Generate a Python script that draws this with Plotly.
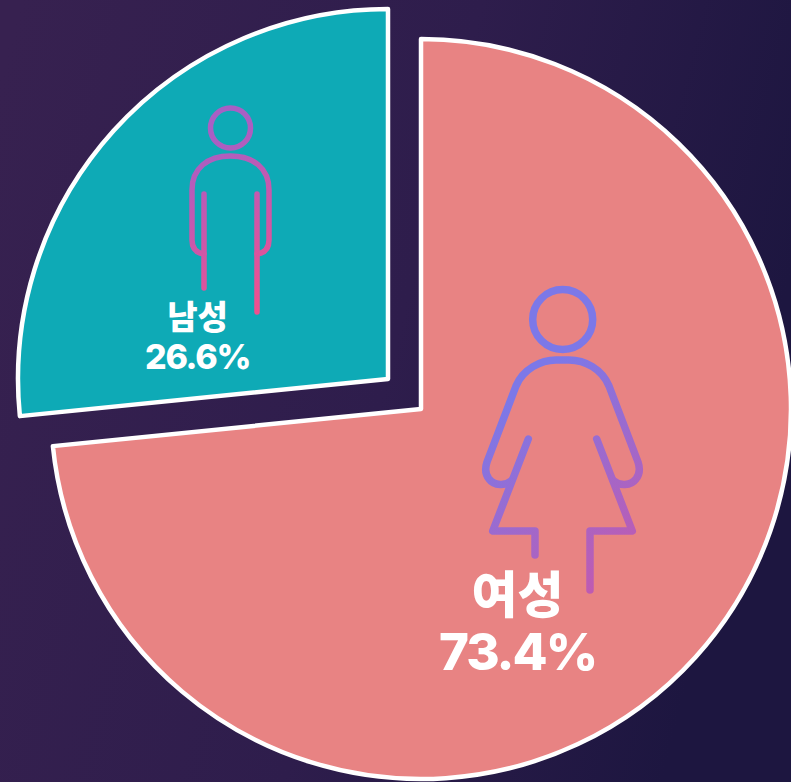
import base64
import plotly.graph_objects as go

labels = ["여성", "남성"]
values = [73.4, 26.6]
slice_colors = ["#E88383", "#0EAAB6"]
FONT = "Inter, Noto Sans CJK KR"
W, H = 791, 782
R = 370
centers = [(421, 409), (388, 379)]  # slice apex positions (exploded layout)


def dom(cx, cy):
    return dict(x=[(cx - R) / W, min(1, (cx + R) / W)],
                y=[(H - cy - R) / H, (H - cy + R) / H])


def svg_uri(body):
    svg = f'<svg xmlns="http://www.w3.org/2000/svg" width="{W}" height="{H}" viewBox="0 0 {W} {H}">{body}</svg>'
    return "data:image/svg+xml;base64," + base64.b64encode(svg.encode()).decode()


bg = svg_uri(
    '<defs><linearGradient id="b" x1="0" y1="0.1" x2="1" y2="0.35">'
    '<stop offset="0" stop-color="#372150"/><stop offset="0.55" stop-color="#2E1D4C"/>'
    '<stop offset="1" stop-color="#1D1640"/></linearGradient></defs>'
    f'<rect width="{W}" height="{H}" fill="url(#b)"/>'
)

icons = svg_uri(
    '<defs>'
    '<linearGradient id="m" gradientUnits="userSpaceOnUse" x1="190" y1="150" x2="275" y2="300">'
    '<stop offset="0" stop-color="#A85FC4"/><stop offset="1" stop-color="#F0508E"/></linearGradient>'
    '<linearGradient id="f" gradientUnits="userSpaceOnUse" x1="510" y1="400" x2="640" y2="560">'
    '<stop offset="0" stop-color="#7C78E8"/><stop offset="1" stop-color="#C05AB0"/></linearGradient>'
    '</defs>'
    '<g fill="none" stroke="url(#m)" stroke-width="5.5" stroke-linecap="round" stroke-linejoin="round">'
    '<circle cx="230.5" cy="128" r="20"/>'
    '<path d="M204 254 C196 253 192 248 192 240 L192 190 C192 168 208 156 230.5 156 C253 156 269 168 269 190 L269 240 C269 248 265 253 257 254"/>'
    '<path d="M204 194 L204 288 M257 194 L257 312"/>'
    '</g>'
    '<g fill="none" stroke="url(#f)" stroke-width="7.5" stroke-linecap="round" stroke-linejoin="round">'
    '<circle cx="562.7" cy="319.5" r="30"/>'
    '<path d="M511 481 C506 486 494 486 489 479 C485 474 485 468 487 462 L516 386 C523 369 541 360 556 360 L569 360 C585 360 602 369 609 386 L638 462 C640 468 640 474 636 479 C631 486 619 486 614 481"/>'
    '<path d="M528.3 439 L492.7 531 L535 531 L535 555"/>'
    '<path d="M596.7 439 L632.3 531 L590 531 L590 590"/>'
    '</g>'
)

fig = go.Figure()
for i in range(2):
    cx, cy = centers[i]
    colors = ["rgba(0,0,0,0)", "rgba(0,0,0,0)"]
    lcolors = ["rgba(0,0,0,0)", "rgba(0,0,0,0)"]
    widths = [0, 0]
    colors[i] = slice_colors[i]
    lcolors[i] = "#FFFFFF"
    widths[i] = 4.5
    fig.add_trace(go.Pie(
        labels=labels, values=values, sort=False, direction="clockwise", rotation=0,
        domain=dom(cx, cy), textinfo="none", showlegend=False, hoverinfo="skip",
        marker=dict(colors=colors, line=dict(color=lcolors, width=widths)),
    ))


def txt(name, val, x, y, base, s1, s2, spacing):
    fig.add_annotation(
        text=f'<span style="font-size:{s1}px">{name}</span><br>'
             f'<span style="font-size:{s2}px;letter-spacing:{spacing}px">{val}%</span>',
        xref="paper", yref="paper", x=x / W, y=1 - y / H,
        xanchor="center", yanchor="middle", showarrow=False, align="center",
        font=dict(family=FONT, size=base, color="#FFFFFF", weight=800))


txt(labels[0], values[0], 517, 623, 44, 50, 51, -2)
txt(labels[1], values[1], 197, 337, 31, 33, 34, -1.3)

common = dict(xref="paper", yref="paper", x=0, y=1, sizex=1, sizey=1, xanchor="left", yanchor="top", sizing="stretch")
fig.update_layout(
    width=W, height=H, margin=dict(l=0, r=0, t=0, b=0),
    paper_bgcolor="#2A1C48", plot_bgcolor="rgba(0,0,0,0)",
    images=[dict(source=bg, layer="below", **common), dict(source=icons, layer="above", **common)],
)
fig.write_html("out.html", config={"displayModeBar": False},
               post_script="document.body.style.margin='0';document.body.style.overflow='hidden';")
